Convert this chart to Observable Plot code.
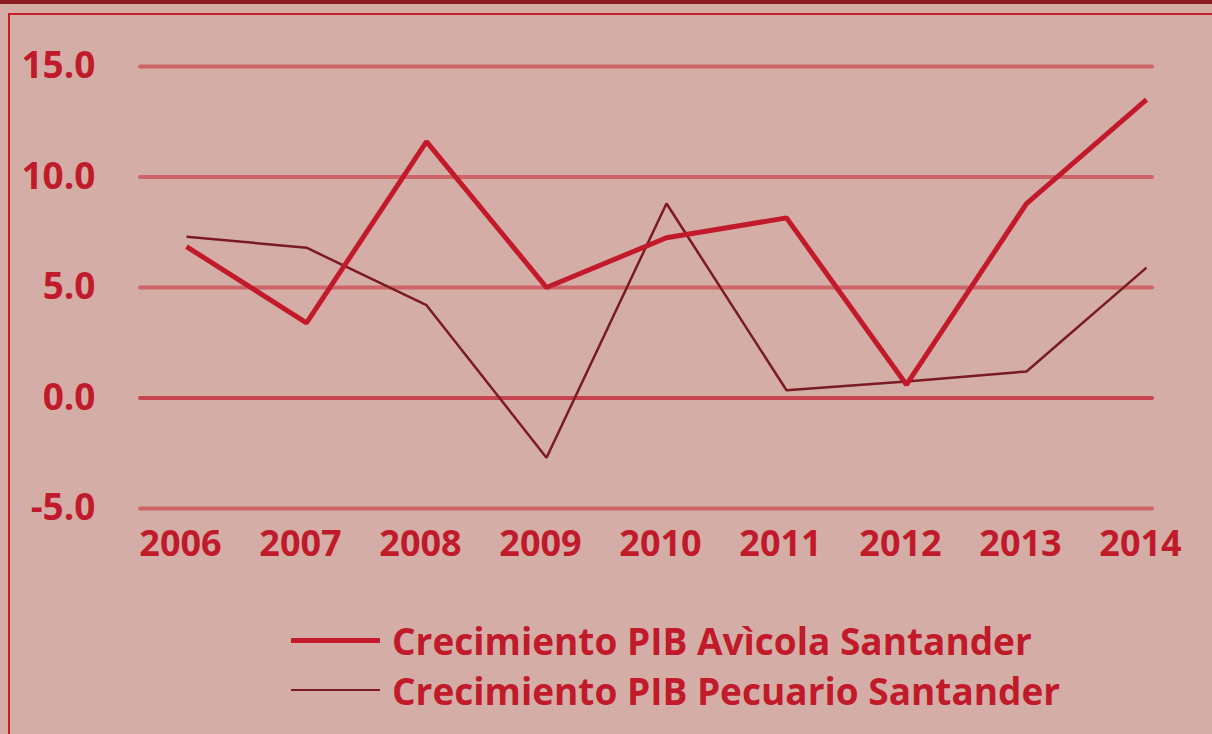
<!DOCTYPE html>
<html>
<head>
<meta charset="utf-8">
<script src="https://cdn.jsdelivr.net/npm/d3@7"></script>
<script src="https://cdn.jsdelivr.net/npm/@observablehq/plot@0.6"></script>
<style>
  html, body { margin: 0; padding: 0; width: 1212px; height: 734px; overflow: hidden; background: #d4aea6; font-family: "Open Sans", sans-serif; }
  #topbar { position: absolute; left: 0; top: 0; width: 1212px; height: 4px; background: #8c1b22; }
  #frame { position: absolute; left: 8px; top: 13px; width: 1300px; height: 800px; border: 2px solid #c81e2c; box-sizing: border-box; }
  #chart { position: absolute; left: 0; top: 0; }
  #legend { position: absolute; left: 0; top: 0; width: 1212px; height: 734px; pointer-events: none; }
  .leg { position: absolute; left: 291px; display: flex; align-items: center; }
  .sw { width: 89px; margin-right: 12px; }
  .lt { font-weight: 700; font-size: 37px; color: #c01a2b; white-space: nowrap; line-height: 1; }
</style>
</head>
<body>
<div id="topbar"></div>
<div id="frame"></div>
<div id="chart"></div>
<div id="legend"></div>
<script>
const years = ["2006", "2007", "2008", "2009", "2010", "2011", "2012", "2013", "2014"];
const avicola = [6.85, 3.4, 11.6, 5.0, 7.25, 8.15, 0.6, 8.8, 13.5];
const pecuario = [7.3, 6.8, 4.2, -2.7, 8.8, 0.35, 0.75, 1.2, 5.9];
const yTicks = [-5, 0, 5, 10, 15];
const seriesNames = ["Crecimiento PIB Avìcola Santander", "Crecimiento PIB Pecuario Santander"];
const seriesColors = ["#c21a2b", "#7a1b22"];
const seriesWidths = [5, 2.5];

const rows = [];
years.forEach((y, i) => {
  rows.push({year: y, value: avicola[i], series: seriesNames[0]});
  rows.push({year: y, value: pecuario[i], series: seriesNames[1]});
});

const textColor = "#c01a2b";
const plot = Plot.plot({
  width: 1212,
  height: 580,
  marginTop: 66,
  marginBottom: 72,
  marginLeft: 140,
  marginRight: 60,
  style: {background: "transparent", fontFamily: "'Open Sans', sans-serif", overflow: "visible"},
  x: {type: "point", domain: years, padding: 0, insetLeft: 44, insetRight: 5},
  y: {domain: [-5, 15]},
  marks: [
    Plot.ruleY(yTicks.filter(d => d !== 0), {stroke: "#cc6468", strokeWidth: 4, strokeLinecap: "round"}),
    Plot.ruleY([0], {stroke: "#c6434f", strokeWidth: 4, strokeLinecap: "round"}),
    Plot.axisY({ticks: yTicks, tickFormat: d => d.toFixed(1), tickSize: 0, tickPadding: 45,
      fontSize: 37, fontWeight: 700, fill: textColor, label: null}),
    Plot.axisX({tickSize: 0, tickPadding: 22, dx: -6, fontSize: 36, fontWeight: 700, fill: textColor, label: null}),
    Plot.line(rows.filter(d => d.series === seriesNames[1]), {x: "year", y: "value", stroke: seriesColors[1], strokeWidth: seriesWidths[1], strokeLinecap: "butt", strokeLinejoin: "miter"}),
    Plot.line(rows.filter(d => d.series === seriesNames[0]), {x: "year", y: "value", stroke: seriesColors[0], strokeWidth: seriesWidths[0], strokeLinecap: "butt", strokeLinejoin: "miter"})
  ]
});
document.getElementById("chart").appendChild(plot);

const legend = document.getElementById("legend");
const legTops = [640, 690];
seriesNames.forEach((name, i) => {
  const row = document.createElement("div");
  row.className = "leg";
  row.style.top = (legTops[i] - 20) + "px";
  row.style.height = "40px";
  const sw = document.createElement("div");
  sw.className = "sw";
  sw.style.height = seriesWidths[i] + "px";
  sw.style.background = seriesColors[i];
  const t = document.createElement("div");
  t.className = "lt";
  t.textContent = name;
  row.appendChild(sw);
  row.appendChild(t);
  legend.appendChild(row);
});
</script>
</body>
</html>
